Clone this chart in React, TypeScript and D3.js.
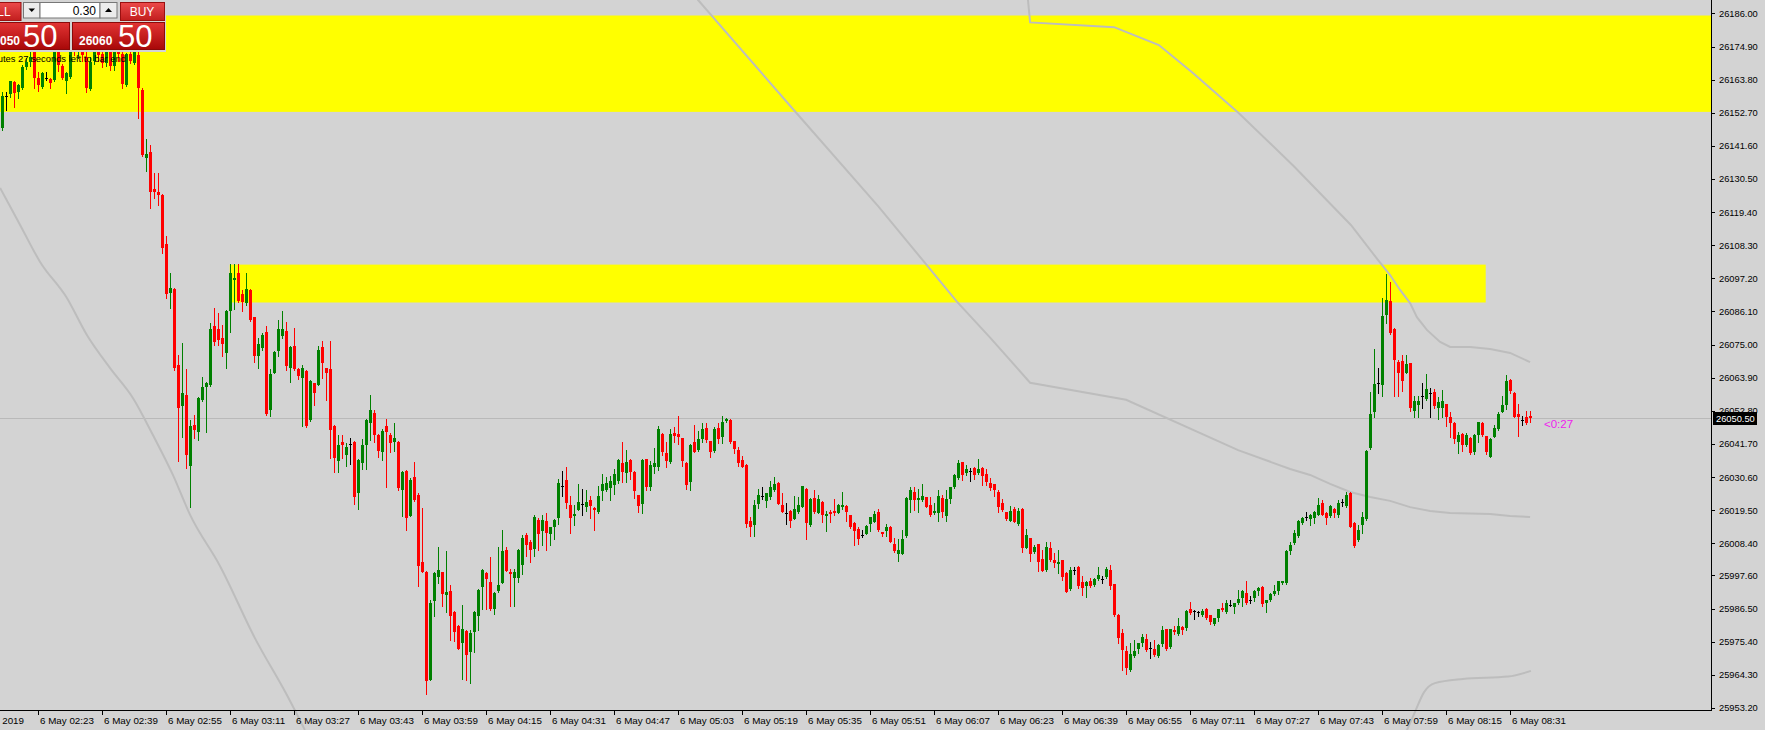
import React from "react";
import * as d3 from "d3";

// ---- Price data (M1 bars, bar 0 = 6 May 02:14) ----
const opens = [
26147.5,26158.3,26158.9,26162.9,26159.8,26161.1,26168.2,26169.6,26176.0,26164.2,
26161.5,26164.4,26164.0,26163.7,26176.5,26168.4,26163.5,26164.8,26177.5,26174.0,
26176.0,26171.5,26160.6,26170.0,26175.0,26172.5,26169.3,26174.5,26168.5,26173.0,
26172.3,26162.0,26172.3,26169.3,26172.0,26160.3,26137.7,26139.4,26127.1,26126.2,
26125.1,26108.7,26092.4,26093.6,26068.2,26054.4,26058.1,26034.3,26048.0,26045.8,
26056.4,26060.9,26061.5,26081.2,26080.2,26077.3,26072.1,26086.3,26096.5,26098.9,
26091.8,26088.8,26093.3,26084.1,26071.0,26073.8,26079.3,26052.9,26065.6,26072.9,
26077.9,26079.6,26067.3,26074.5,26066.8,26063.9,26066.3,26049.7,26062.0,26061.5,
26074.3,26067.0,26066.8,26047.7,26036.0,26042.4,26038.0,26041.6,26042.4,26025.4,
26035.2,26041.4,26048.8,26052.2,26044.7,26039.1,26047.7,26044.7,26042.3,26042.5,
26026.3,26032.6,26017.6,26030.5,26024.6,26002.0,25998.8,25962.6,25989.1,25997.0,
25998.7,25991.1,25992.4,25985.4,25980.7,25975.1,25979.1,25971.8,25978.8,25984.1,
25993.6,25998.4,25995.3,25986.3,25992.4,25995.2,26006.2,25998.8,25996.6,25996.6,
26001.0,26011.1,26008.9,26006.4,26016.2,26012.5,26015.8,26011.5,26013.8,26016.9,
26027.6,26029.5,26021.2,26017.6,26019.6,26021.6,26020.7,26022.9,26020.2,26018.8,
26026.0,26026.3,26027.0,26027.9,26029.3,26035.3,26032.0,26036.3,26032.4,26024.5,
26021.5,26036.6,26027.4,26033.9,26033.9,26045.0,26038.5,26035.5,26045.5,26045.0,
26043.6,26035.3,26029.0,26042.3,26039.6,26043.3,26047.0,26042.6,26039.3,26047.0,
26044.0,26049.4,26049.7,26042.6,26039.6,26036.3,26034.6,26015.9,26014.5,26021.5,
26024.2,26022.5,26023.9,26026.2,26028.7,26021.2,26018.6,26019.2,26016.5,26019.0,
26020.6,26026.6,26014.5,26023.5,26018.6,26022.2,26017.5,26018.8,26019.2,26018.7,
26020.5,26020.9,26017.8,26015.2,26013.3,26011.1,26011.6,26014.8,26015.5,26018.8,
26012.1,26012.5,26013.9,26008.1,26004.8,26004.9,26010.8,26022.9,26025.5,26023.0,
26022.9,26023.8,26021.2,26018.5,26018.5,26023.5,26017.6,26023.2,26027.2,26030.2,
26035.6,26031.9,26032.5,26033.6,26031.9,26033.6,26031.6,26028.6,26028.2,26025.5,
26021.9,26018.8,26015.8,26019.9,26014.8,26019.9,26006.9,26010.1,26005.4,26008.1,
26003.1,25999.4,26006.8,26002.7,26001.4,26002.7,25998.4,25993.0,25999.4,26000.4,
25995.4,25994.0,25995.7,25994.4,25996.4,25996.4,25997.0,25999.4,25994.7,25984.3,
25978.3,25972.3,25965.9,25970.6,25972.9,25974.9,25976.3,25973.3,25972.9,25970.6,
25974.6,25979.6,25973.6,25979.3,25978.0,25980.3,25980.0,25986.3,25985.7,25985.3,
25984.3,25986.3,25984.3,25981.3,25983.3,25986.7,25985.3,25987.7,25987.0,25988.3,
25990.0,25991.7,25989.5,25990.0,25992.4,25993.7,25988.3,25989.3,25991.4,25992.4,
25995.0,25995.0,26005.8,26008.4,26010.9,26015.1,26017.2,26016.5,26016.7,26017.9,
26021.8,26018.7,26017.5,26019.9,26017.9,26022.2,26020.9,26025.3,26015.1,26009.5,
26014.5,26016.5,26040.2,26052.4,26062.0,26061.4,26084.9,26089.7,26080.2,26069.2,
26069.6,26065.5,26068.7,26052.8,26054.7,26057.7,26056.7,26058.6,26059.2,26053.7,
26053.7,26055.0,26050.8,26048.8,26042.4,26045.1,26041.3,26043.8,26039.0,26044.7,
26048.8,26044.3,26037.4,26044.1,26046.6,26052.5,26054.9,26063.1,26058.9,26051.7,
26049.6,26050.7,26051.0
];
const highs = [
26159.8,26159.8,26163.5,26163.3,26162.2,26168.8,26170.9,26173.5,26178.0,26166.5,
26166.5,26166.2,26164.4,26178.0,26178.5,26169.0,26166.5,26179.0,26180.0,26177.0,
26178.0,26173.0,26171.5,26177.0,26178.0,26174.0,26176.0,26176.0,26175.0,26176.0,
26174.0,26172.8,26175.5,26176.0,26174.0,26160.9,26143.8,26141.9,26132.6,26132.6,
26125.5,26111.4,26098.9,26094.0,26071.5,26075.4,26066.8,26049.7,26051.4,26057.3,
26064.2,26062.3,26082.1,26087.1,26085.5,26081.6,26086.5,26101.9,26101.9,26101.9,
26093.3,26098.9,26093.5,26084.3,26077.3,26079.0,26081.2,26066.8,26072.8,26083.2,
26086.3,26082.4,26074.5,26080.7,26067.0,26068.2,26066.5,26063.1,26062.2,26074.5,
26076.3,26067.2,26076.2,26047.9,26044.7,26044.7,26041.9,26043.6,26042.8,26036.5,
26043.4,26049.9,26058.1,26052.9,26044.9,26046.6,26050.1,26045.3,26048.8,26042.7,
26032.6,26032.8,26030.2,26035.7,26025.4,26020.1,25999.0,25989.4,25998.6,26007.3,
25998.9,26005.8,25994.4,25985.6,25980.9,25987.7,25979.3,25979.4,25985.7,25993.0,
25999.8,25998.6,26003.9,25991.9,26007.3,26012.9,26007.1,25999.9,25999.8,26006.5,
26011.0,26012.0,26009.5,26017.8,26017.0,26017.8,26018.7,26013.9,26016.4,26030.1,
26032.6,26034.1,26024.2,26021.2,26028.1,26026.5,26026.1,26024.2,26020.7,26027.6,
26031.6,26030.5,26031.0,26033.3,26036.5,26042.3,26039.6,26036.6,26032.6,26024.7,
26036.6,26036.8,26035.9,26040.4,26047.8,26045.3,26042.3,26046.7,26047.3,26051.0,
26043.8,26035.5,26041.5,26048.0,26046.0,26048.7,26048.7,26042.8,26047.3,26048.7,
26051.0,26050.3,26050.0,26042.8,26040.6,26037.6,26034.8,26017.1,26022.9,26026.5,
26027.2,26025.4,26029.2,26030.7,26028.9,26025.3,26022.0,26019.4,26024.2,26024.0,
26027.6,26026.8,26023.4,26026.2,26024.5,26022.4,26019.1,26019.5,26023.2,26021.4,
26025.5,26021.1,26018.0,26015.4,26013.8,26012.8,26014.4,26017.2,26019.2,26019.9,
26012.3,26014.8,26014.3,26010.1,26009.8,26012.8,26024.0,26027.2,26027.2,26026.6,
26028.2,26024.0,26023.8,26021.8,26026.2,26024.5,26026.2,26027.4,26031.6,26036.3,
26035.8,26034.6,26033.6,26033.9,26036.6,26033.8,26033.3,26030.2,26028.4,26026.2,
26023.2,26019.0,26020.9,26020.6,26020.3,26020.1,26013.1,26010.3,26007.8,26008.3,
26006.1,26008.8,26008.8,26005.1,26006.1,26002.9,25998.7,26000.4,26000.4,26000.7,
25997.4,25995.7,25996.7,25996.6,26000.4,25997.4,26000.4,26001.1,25994.9,25984.7,
25979.6,25973.9,25974.9,25975.9,25975.1,25978.0,25978.0,25975.3,25975.9,25974.5,
25980.6,25979.8,25979.8,25980.6,25983.3,25980.5,25985.9,25988.7,25985.9,25985.7,
25986.3,25986.7,25984.5,25983.5,25986.5,25988.3,25989.3,25989.3,25988.5,25992.7,
25992.7,25995.7,25990.7,25992.6,25993.6,25993.9,25989.5,25991.6,25994.4,25995.9,
25995.9,26006.0,26008.8,26012.8,26016.1,26017.2,26019.0,26018.1,26019.2,26023.4,
26022.9,26018.9,26021.2,26020.1,26022.9,26023.2,26025.7,26025.7,26015.6,26014.5,
26019.0,26039.6,26059.2,26073.5,26067.2,26090.5,26098.6,26096.0,26080.4,26069.8,
26071.5,26071.5,26068.9,26057.7,26057.7,26062.0,26065.0,26060.6,26060.1,26057.5,
26059.9,26055.2,26052.3,26049.0,26045.6,26045.3,26045.2,26044.0,26044.9,26048.9,
26049.0,26044.5,26043.7,26048.0,26052.5,26057.7,26064.8,26063.6,26059.1,26055.0,
26051.0,26052.7,26052.7
];
const lows = [
26147.0,26153.6,26158.1,26154.7,26157.7,26160.5,26167.5,26168.5,26160.9,26160.1,
26160.9,26163.7,26161.1,26163.5,26166.8,26164.0,26159.2,26164.5,26172.0,26171.0,
26170.0,26159.8,26160.4,26169.0,26170.0,26168.0,26168.5,26167.0,26167.0,26170.0,
26161.1,26161.8,26169.5,26169.0,26150.8,26138.3,26133.3,26120.9,26124.0,26121.8,
26105.8,26090.7,26087.4,26066.5,26036.1,26044.1,26033.5,26020.7,26043.6,26043.0,
26056.0,26045.8,26061.0,26074.9,26075.0,26071.0,26067.3,26079.3,26087.0,26089.3,
26086.3,26088.3,26083.0,26069.3,26067.3,26073.2,26051.5,26050.9,26065.4,26071.3,
26077.3,26066.5,26062.6,26066.5,26063.4,26047.7,26047.5,26049.5,26054.8,26061.3,
26063.7,26056.4,26037.1,26032.4,26032.4,26036.9,26034.3,26035.0,26021.7,26019.9,
26033.4,26033.3,26043.0,26042.5,26037.4,26036.3,26027.1,26039.0,26039.3,26026.3,
26017.6,26012.9,26017.4,26022.7,25994.1,25998.6,25957.9,25962.4,25984.1,25995.0,
25987.2,25985.5,25976.0,25975.7,25972.9,25962.9,25962.6,25961.7,25972.1,25979.4,
25986.3,25986.3,25986.1,25984.6,25992.2,25995.0,25999.0,25987.2,25987.2,25995.5,
25998.0,26004.0,26002.0,26004.0,26006.1,26007.8,26006.1,26007.8,26009.8,26015.0,
26024.3,26020.1,26011.8,26014.5,26019.4,26017.8,26019.2,26016.9,26012.8,26018.6,
26022.9,26025.9,26022.9,26024.9,26028.6,26029.0,26028.8,26029.9,26023.6,26018.8,
26018.6,26026.2,26026.2,26031.9,26032.9,26037.9,26033.9,26035.3,26042.3,26041.5,
26034.3,26026.7,26026.3,26039.0,26039.3,26042.2,26042.2,26037.2,26039.1,26042.0,
26042.0,26049.0,26041.9,26038.5,26034.3,26034.0,26013.9,26010.9,26010.9,26020.1,
26023.3,26020.6,26023.2,26025.9,26021.4,26019.0,26014.8,26013.9,26016.5,26018.4,
26020.4,26009.8,26014.3,26018.4,26018.4,26015.6,26012.5,26015.5,26017.8,26018.5,
26019.9,26015.8,26013.4,26007.8,26008.1,26010.6,26011.4,26012.5,26015.4,26012.5,
26010.9,26010.9,26008.8,26005.3,26002.4,26004.8,26010.5,26019.0,26019.7,26019.0,
26022.7,26020.5,26017.6,26018.1,26015.8,26017.2,26015.8,26021.9,26027.0,26030.0,
26029.6,26031.2,26029.2,26029.9,26031.7,26027.9,26027.9,26026.2,26024.3,26019.0,
26019.3,26016.3,26015.7,26015.4,26014.5,26005.4,26006.7,26002.4,26005.2,25999.1,
25999.0,25999.2,26002.5,26000.5,25998.5,25996.0,25992.0,25992.8,25998.1,25993.4,
25991.0,25990.3,25993.8,25994.0,25996.2,25995.0,25996.8,25993.0,25984.0,25975.0,
25965.9,25964.5,25965.7,25970.4,25971.6,25973.9,25972.4,25969.9,25970.7,25970.4,
25973.9,25972.7,25973.4,25978.0,25977.6,25978.0,25979.3,25984.8,25983.0,25984.0,
25984.1,25983.1,25981.3,25981.1,25982.3,25985.8,25985.1,25987.4,25985.0,25988.1,
25987.3,25988.0,25988.3,25989.0,25991.0,25987.3,25985.3,25989.1,25991.2,25991.4,
25994.8,25994.8,26004.8,26008.2,26010.5,26014.9,26016.2,26014.5,26015.1,26017.7,
26017.7,26014.8,26017.3,26017.1,26017.1,26020.9,26020.7,26013.7,26007.0,26009.2,
26011.9,26016.3,26040.0,26050.6,26058.8,26057.7,26082.3,26078.7,26057.7,26057.7,
26059.4,26065.3,26052.8,26050.6,26050.6,26053.6,26056.4,26050.6,26053.9,26049.9,
26050.6,26047.8,26044.1,26042.1,26038.5,26039.3,26041.1,26038.3,26038.3,26042.4,
26044.5,26038.2,26037.2,26043.9,26046.4,26052.3,26053.5,26058.8,26050.6,26044.4,
26048.0,26048.3,26048.9
];
const closes = [
26158.3,26158.3,26163.3,26159.2,26162.0,26168.2,26169.6,26171.5,26164.2,26162.0,
26165.9,26164.4,26162.8,26176.5,26168.7,26164.2,26165.9,26177.5,26174.0,26176.0,
26172.0,26161.1,26169.8,26175.0,26172.0,26169.3,26174.5,26168.5,26173.0,26172.3,
26162.5,26172.3,26170.0,26173.2,26160.9,26138.5,26138.9,26126.2,26126.2,26125.3,
26107.5,26091.8,26093.8,26067.0,26053.9,26058.6,26038.0,26047.7,26046.4,26057.0,
26060.9,26062.0,26080.2,26076.0,26076.5,26075.1,26086.3,26098.9,26097.2,26089.6,
26089.2,26093.5,26083.2,26071.2,26075.1,26078.2,26051.7,26065.2,26072.6,26080.2,
26080.2,26067.8,26074.3,26066.8,26064.6,26067.0,26047.7,26062.8,26058.9,26073.2,
26068.9,26065.6,26046.4,26037.1,26041.4,26041.4,26040.8,26041.6,26023.8,26036.3,
26041.4,26049.7,26053.1,26044.7,26039.3,26046.0,26045.8,26042.1,26043.6,26026.8,
26032.4,26017.0,26029.6,26022.9,26000.8,25998.9,25962.1,25988.5,25998.4,25999.5,
25991.4,25991.9,25984.1,25978.7,25973.1,25979.7,25971.0,25978.2,25985.5,25992.8,
25999.5,25996.3,25986.3,25991.7,25994.4,26005.8,25999.1,25998.2,25998.7,26006.2,
26010.0,26007.8,26006.0,26017.2,26011.5,26016.2,26011.7,26013.8,26016.2,26028.6,
26027.6,26022.0,26016.9,26018.2,26022.2,26021.6,26022.2,26021.0,26019.6,26024.2,
26028.2,26028.6,26029.2,26031.6,26036.3,26032.4,26035.6,26032.4,26025.9,26021.0,
26036.3,26027.4,26034.6,26035.3,26046.7,26039.1,26036.0,26045.0,26044.4,26044.0,
26036.0,26027.9,26041.3,26039.1,26043.3,26046.7,26043.0,26039.1,26046.7,26043.3,
26049.0,26050.0,26042.2,26040.0,26035.4,26034.0,26014.9,26013.9,26021.2,26024.5,
26024.2,26025.2,26027.2,26028.2,26021.6,26019.0,26018.6,26015.9,26019.9,26021.2,
26027.6,26015.3,26023.2,26019.0,26023.2,26017.8,26018.2,26018.1,26018.5,26021.2,
26021.2,26019.0,26013.8,26012.6,26009.9,26011.1,26014.2,26017.2,26018.2,26012.8,
26011.5,26014.0,26008.8,26005.8,26006.1,26009.8,26023.5,26026.2,26022.9,26023.5,
26024.2,26020.6,26017.8,26019.2,26024.2,26018.8,26023.2,26027.2,26031.2,26035.3,
26031.2,26033.3,26032.5,26031.2,26033.3,26030.9,26029.0,26027.0,26026.2,26020.5,
26019.5,26016.5,26019.2,26015.6,26019.2,26006.9,26011.1,26004.9,26007.1,26002.0,
25999.2,26007.1,26002.7,26001.9,26002.1,25997.0,25992.2,25999.4,25999.4,25994.0,
25993.4,25995.4,25994.0,25996.4,25997.7,25996.4,25999.7,25994.0,25984.2,25976.7,
25972.6,25966.6,25971.2,25972.3,25974.9,25976.9,25972.6,25973.3,25970.9,25974.3,
25979.3,25972.9,25979.6,25978.6,25980.6,25979.3,25985.7,25985.0,25985.7,25985.3,
25985.7,25983.3,25982.0,25983.3,25986.3,25986.0,25988.3,25987.7,25988.3,25989.7,
25992.4,25988.3,25989.5,25992.4,25993.4,25988.0,25989.3,25991.4,25992.4,25995.7,
25995.7,26005.8,26007.8,26011.8,26015.8,26017.0,26017.2,26017.9,26019.0,26021.2,
26017.9,26016.9,26020.9,26018.6,26021.8,26022.2,26024.5,26013.9,26007.6,26013.0,
26017.3,26039.3,26051.7,26061.7,26062.0,26084.5,26089.9,26078.9,26069.8,26065.5,
26062.8,26068.4,26053.8,26056.2,26056.2,26057.7,26060.1,26058.6,26054.4,26055.6,
26056.2,26050.6,26048.8,26043.2,26044.7,26041.2,26044.7,26038.5,26044.7,26048.9,
26044.7,26039.1,26043.5,26047.1,26051.7,26054.7,26062.9,26059.5,26050.6,26050.8,
26049.6,26048.6,26050.5
];

// ---- Axis labels ----
const priceTicks = [26186.0,26174.9,26163.8,26152.7,26141.6,26130.5,26119.4,26108.3,26097.2,26086.1,26075.0,
  26063.9,26052.8,26041.7,26030.6,26019.5,26008.4,25997.6,25986.5,25975.4,25964.3,25953.2];
const timeTickBars = [9,25,41,57,73,89,105,121,137,153,169,185,201,217,233,249,265,281,297,313,329,345,361,377];
const timeTickLabels = ["6 May 02:23","6 May 02:39","6 May 02:55","6 May 03:11","6 May 03:27","6 May 03:43",
  "6 May 03:59","6 May 04:15","6 May 04:31","6 May 04:47","6 May 05:03","6 May 05:19","6 May 05:35",
  "6 May 05:51","6 May 06:07","6 May 06:23","6 May 06:39","6 May 06:55","6 May 07:11","6 May 07:27",
  "6 May 07:43","6 May 07:59","6 May 08:15","6 May 08:31"];
const firstDateLabel = "6 May 2019";
const currentPrice = 26050.5;

// ---- Zones (bar index from/to, price top/bottom) ----
const zoneBars = [[-20, 500], [57, 371]];
const zonePrices = [[26185.3, 26153.0], [26101.8, 26089.1]];

// ---- Indicator lines: [bar index, price] ----
const bandLowerLeft: [number, number][] = [[-0.6,26127.5],[4.4,26115.1],[9.4,26102.7],[16.1,26090.6],[21.1,26078.2],
  [26.9,26067.1],[32.6,26057.1],[37.6,26044.7],[42.6,26031.3],[46.9,26017.9],[54.4,26000.7],[63.1,25976.6],
  [71.1,25957.5],[75.6,25945.8]];
const bandMiddle: [number, number][] = [[171.9,26193.9],[173.9,26190.5],[196.4,26155.8],[218.9,26121.4],[238.6,26089.4],
  [246.9,26077.3],[256.9,26062.2],[280.9,26056.5],[308.9,26039.6],[321.9,26033.3],[326.9,26031.3],[331.9,26028.3],
  [336.9,26025.6],[341.9,26023.9],[346.9,26022.6],[351.9,26020.5],[356.9,26019.2],[361.9,26018.5],[371.9,26018.2],
  [376.9,26017.5],[381.9,26017.2]];
const bandUpper: [number, number][] = [[255.9,26197.2],[256.9,26183.0],[277.9,26181.4],[289.1,26175.4],[297.6,26166.0],
  [308.9,26152.8],[322.9,26134.7],[337.1,26115.1],[343.9,26103.3],[346.9,26098.3],[349.4,26093.3],[351.9,26088.9],
  [353.6,26084.2],[356.1,26079.9],[359.4,26075.9],[361.9,26074.2],[366.9,26074.2],[371.9,26073.5],[376.9,26072.2],
  [381.9,26069.1]];
const bandLowerRight: [number, number][] = [[350.6,25944.1],[353.1,25951.8],[355.4,25958.5],[358.1,25961.5],
  [365.1,25962.9],[376.4,25963.7],[382.1,25965.6]];

const FONT = "'Liberation Sans', Arial, sans-serif";

export default function App() {
  const W = 1765, H = 730;
  const axisX = 1711, axisY = 710;
  const x = d3.scaleLinear().domain([0, 382]).range([2.5, 1530.5]);
  const y = d3.scaleLinear().domain([25952.5, 26190.5]).range([710, 0]);
  const smooth = d3.line<[number, number]>().x(d => x(d[0])).y(d => y(d[1])).curve(d3.curveMonotoneX);
  const straight = d3.line<[number, number]>().x(d => x(d[0])).y(d => y(d[1]));

  const candles = opens.map((o, i) => {
    const c = closes[i], h = highs[i], l = lows[i];
    const cx = x(i);
    const col = c > o ? "#008000" : c < o ? "#ff0000" : "#000000";
    const t = Math.round(y(Math.max(o, c)));
    const b = Math.round(y(Math.min(o, c)));
    return (
      <g key={i}>
        <line x1={cx} x2={cx} y1={Math.round(y(h))} y2={Math.round(y(l)) + 1} stroke={col} strokeWidth={1} />
        <rect x={cx - 1.5} y={t} width={3} height={Math.max(1, b - t)} fill={col} />
      </g>
    );
  });

  const ybar = y(currentPrice);

  return (
    <svg width={W} height={H} style={{ position: "absolute", left: 0, top: 0, display: "block" }} fontFamily={FONT}>
      <defs>
        <clipPath id="chartClip"><rect x={0} y={0} width={axisX} height={axisY} /></clipPath>
        <clipPath id="lineClip"><rect x={0} y={0} width={axisX} height={H} /></clipPath>
        <linearGradient id="btnTop" x1="0" y1="0" x2="0" y2="1">
          <stop offset="0" stopColor="#ec4a4a" />
          <stop offset="1" stopColor="#c21e1e" />
        </linearGradient>
        <linearGradient id="btnBig" x1="0" y1="0" x2="0" y2="1">
          <stop offset="0" stopColor="#e23434" />
          <stop offset="1" stopColor="#a80808" />
        </linearGradient>
      </defs>
      <rect x={0} y={0} width={W} height={H} fill="#d3d3d3" />

      <g clipPath="url(#chartClip)">
        {zoneBars.map((zb, k) => {
          const x0 = Math.max(-5, x(zb[0]) - 0.8), x1 = Math.min(axisX, x(zb[1]) - 0.8);
          const y0 = y(zonePrices[k][0]), y1 = y(zonePrices[k][1]);
          return <rect key={k} x={x0} y={y0} width={x1 - x0} height={y1 - y0} fill="#ffff00" />;
        })}
        <line x1={0} x2={axisX} y1={Math.round(ybar) + 0.5} y2={Math.round(ybar) + 0.5} stroke="#b9b9b9" strokeWidth={1} />
      </g>

      <g clipPath="url(#lineClip)" fill="none" stroke="#bdbdbd" strokeWidth={2}>
        <path d={smooth(bandLowerLeft) || ""} />
        <path d={straight(bandMiddle) || ""} />
        <path d={straight(bandUpper) || ""} />
        <path d={smooth(bandLowerRight) || ""} />
      </g>

      <g clipPath="url(#chartClip)" shapeRendering="crispEdges">{candles}</g>

      {/* axes */}
      <line x1={axisX + 0.5} x2={axisX + 0.5} y1={0} y2={axisY + 1} stroke="#000" strokeWidth={1} shapeRendering="crispEdges" />
      <line x1={0} x2={axisX + 1} y1={axisY + 0.5} y2={axisY + 0.5} stroke="#000" strokeWidth={1} shapeRendering="crispEdges" />
      {priceTicks.map((p, k) => (
        <g key={k}>
          <line x1={axisX} x2={axisX + 4} y1={Math.round(y(p)) + 0.5} y2={Math.round(y(p)) + 0.5} stroke="#000" shapeRendering="crispEdges" />
          <text x={axisX + 8} y={y(p) + 3.5} fontSize={9.3} fill="#000">{p.toFixed(2)}</text>
        </g>
      ))}
      {timeTickBars.map((b, k) => (
        <g key={k}>
          <line x1={x(b)} x2={x(b)} y1={axisY} y2={axisY + 5} stroke="#000" shapeRendering="crispEdges" />
          <text x={x(b) + 1.5} y={723.5} fontSize={9.8} fill="#000">{timeTickLabels[k]}</text>
        </g>
      ))}
      <text x={24} y={723.5} fontSize={9.8} fill="#000" textAnchor="end">{firstDateLabel}</text>

      {/* current price marker */}
      <rect x={axisX + 2} y={Math.round(ybar) - 6} width={44} height={13} fill="#000" />
      <text x={axisX + 5} y={Math.round(ybar) + 4} fontSize={9.3} fill="#fff">{currentPrice.toFixed(2)}</text>
      <text x={1544} y={ybar + 10.5} fontSize={11.5} fill="#ee22ee">{"<0:27"}</text>

      {/* one-click trading panel */}
      <g>
        <rect x={0} y={0} width={166} height={52} fill="#d4d4d4" />
        <rect x={-30} y={2.5} width={51} height={18} fill="url(#btnTop)" stroke="#9a1010" />
        <text x={-4} y={16} fontSize={12} fill="#fff" textAnchor="middle">SELL</text>
        <rect x={120.5} y={2.5} width={44} height={18} fill="url(#btnTop)" stroke="#9a1010" />
        <text x={142} y={16} fontSize={12} fill="#fff" textAnchor="middle">BUY</text>
        <rect x={23.5} y={2.5} width={16.5} height={15.5} fill="#ececec" stroke="#777" />
        <path d="M28.5,8.5 L35,8.5 L31.75,12 Z" fill="#000" />
        <rect x={40} y={2.5} width={60} height={15.5} fill="#fff" stroke="#777" />
        <text x={96} y={14.5} fontSize={12} fill="#000" textAnchor="end">0.30</text>
        <rect x={100} y={2.5} width={17} height={15.5} fill="#ececec" stroke="#777" />
        <path d="M105,12 L112,12 L108.5,8 Z" fill="#000" />
        <rect x={-10} y={22.5} width={79.5} height={27} fill="url(#btnBig)" stroke="#8a0a0a" />
        <text x={20} y={45} fontSize={12} fontWeight="bold" fill="#fff" textAnchor="end">26050</text>
        <text x={23} y={47} fontSize={31} fill="#fff">50</text>
        <rect x={72.5} y={22.5} width={92} height={27} fill="url(#btnBig)" stroke="#8a0a0a" />
        <text x={79} y={45} fontSize={12} fontWeight="bold" fill="#fff">26060</text>
        <text x={118} y={47} fontSize={31} fill="#fff">50</text>
      </g>
      <text x={126} y={62} fontSize={9.4} fill="#000" textAnchor="end">0 minutes 27 seconds left to bar end</text>
    </svg>
  );
}
